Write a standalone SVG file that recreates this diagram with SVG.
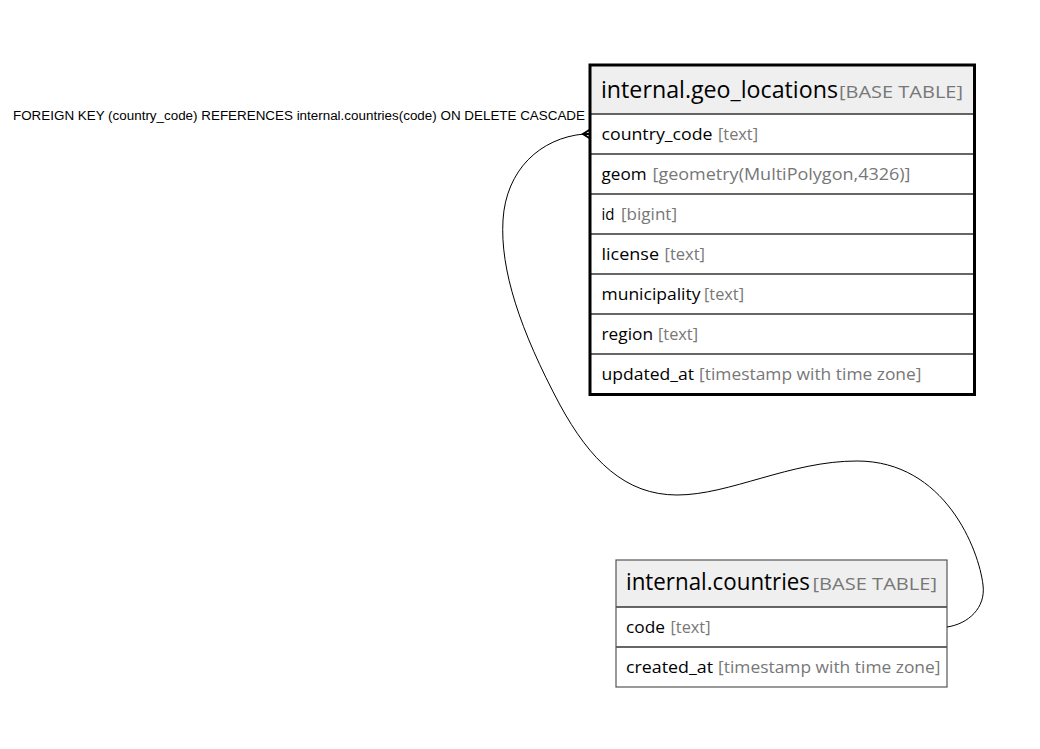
<svg xmlns="http://www.w3.org/2000/svg" width="1040" height="749" viewBox="0 0 1040 749">
<style>
text{font-family:"Open Sans","DejaVu Sans",sans-serif}
.name{font-size:23px;fill:#000}
.tag{font-size:17px;fill:#777}
.col{font-size:17px;fill:#000}
.typ{font-size:17px;fill:#777}
.hdr{fill:#efefef;stroke:none}
.row{fill:#fff;stroke:none}
.sep{stroke:#333;stroke-width:1.5}
.lbl{font-family:"Liberation Sans",Arial,sans-serif;font-size:12.5px;fill:#000}
.edge{fill:none;stroke:#000;stroke-width:1}
</style>
<rect width="1040" height="749" fill="#fff"/>
<g id="geo_locations">
<rect class="row" x="591" y="66" width="382" height="328"/>
<rect class="hdr" x="591" y="66" width="382" height="48"/>
<text class="name" x="601" y="97.5" textLength="237" lengthAdjust="spacingAndGlyphs">internal.geo_locations</text>
<text class="tag" x="839" y="97.5" textLength="124" lengthAdjust="spacingAndGlyphs">[BASE TABLE]</text>
<g class="sep">
<line x1="591" y1="114" x2="973" y2="114"/>
<line x1="591" y1="154" x2="973" y2="154"/>
<line x1="591" y1="194" x2="973" y2="194"/>
<line x1="591" y1="234" x2="973" y2="234"/>
<line x1="591" y1="274" x2="973" y2="274"/>
<line x1="591" y1="314" x2="973" y2="314"/>
<line x1="591" y1="354" x2="973" y2="354"/>
</g>
<text class="col" x="601.5" y="139.5" textLength="111" lengthAdjust="spacingAndGlyphs">country_code</text>
<text class="typ" x="718" y="139.5" textLength="40" lengthAdjust="spacingAndGlyphs">[text]</text>
<text class="col" x="601.5" y="179.5" textLength="45" lengthAdjust="spacingAndGlyphs">geom</text>
<text class="typ" x="652.5" y="179.5" textLength="258" lengthAdjust="spacingAndGlyphs">[geometry(MultiPolygon,4326)]</text>
<text class="col" x="601.5" y="219.5" textLength="13" lengthAdjust="spacingAndGlyphs">id</text>
<text class="typ" x="621" y="219.5" textLength="56" lengthAdjust="spacingAndGlyphs">[bigint]</text>
<text class="col" x="601.5" y="259.5" textLength="57.5" lengthAdjust="spacingAndGlyphs">license</text>
<text class="typ" x="664.5" y="259.5" textLength="40.5" lengthAdjust="spacingAndGlyphs">[text]</text>
<text class="col" x="601.5" y="299.5" textLength="99" lengthAdjust="spacingAndGlyphs">municipality</text>
<text class="typ" x="704" y="299.5" textLength="40" lengthAdjust="spacingAndGlyphs">[text]</text>
<text class="col" x="601.5" y="339.5" textLength="51.5" lengthAdjust="spacingAndGlyphs">region</text>
<text class="typ" x="658" y="339.5" textLength="40" lengthAdjust="spacingAndGlyphs">[text]</text>
<text class="col" x="601.5" y="379.5" textLength="92.5" lengthAdjust="spacingAndGlyphs">updated_at</text>
<text class="typ" x="699" y="379.5" textLength="222.5" lengthAdjust="spacingAndGlyphs">[timestamp with time zone]</text>
<rect x="590" y="65" width="384.5" height="329.5" fill="none" stroke="#000" stroke-width="3"/>
</g>
<g id="countries">
<rect class="row" x="616" y="560" width="331" height="127"/>
<rect class="hdr" x="616" y="560" width="331" height="47"/>
<text class="name" x="626" y="590" textLength="184" lengthAdjust="spacingAndGlyphs">internal.countries</text>
<text class="tag" x="812.5" y="590" textLength="124.5" lengthAdjust="spacingAndGlyphs">[BASE TABLE]</text>
<g class="sep">
<line x1="616" y1="607" x2="947" y2="607"/>
<line x1="616" y1="647" x2="947" y2="647"/>
</g>
<text class="col" x="626" y="632.5" textLength="39" lengthAdjust="spacingAndGlyphs">code</text>
<text class="typ" x="670.5" y="632.5" textLength="40" lengthAdjust="spacingAndGlyphs">[text]</text>
<text class="col" x="626" y="672.5" textLength="87" lengthAdjust="spacingAndGlyphs">created_at</text>
<text class="typ" x="718" y="672.5" textLength="222.5" lengthAdjust="spacingAndGlyphs">[timestamp with time zone]</text>
<rect x="616" y="560" width="331" height="127" fill="none" stroke="#555" stroke-width="1.2"/>
</g>
<g id="connectors">
<path class="edge" d="M947,627 C968,624 986,608 983,585 C979,550 945,461 857,461 C790,461 730,495 677,495 C625,495 590,460 560,405 C520,330 500,270 503,220 C506,170 540,138 584,134"/>
<path d="M590,129.5 L583,134 L590,138.5 M583,134 L590,134" fill="none" stroke="#000" stroke-width="2"/>
<text class="lbl" x="13" y="120" textLength="572" lengthAdjust="spacingAndGlyphs">FOREIGN KEY (country_code) REFERENCES internal.countries(code) ON DELETE CASCADE</text>
</g>
</svg>
